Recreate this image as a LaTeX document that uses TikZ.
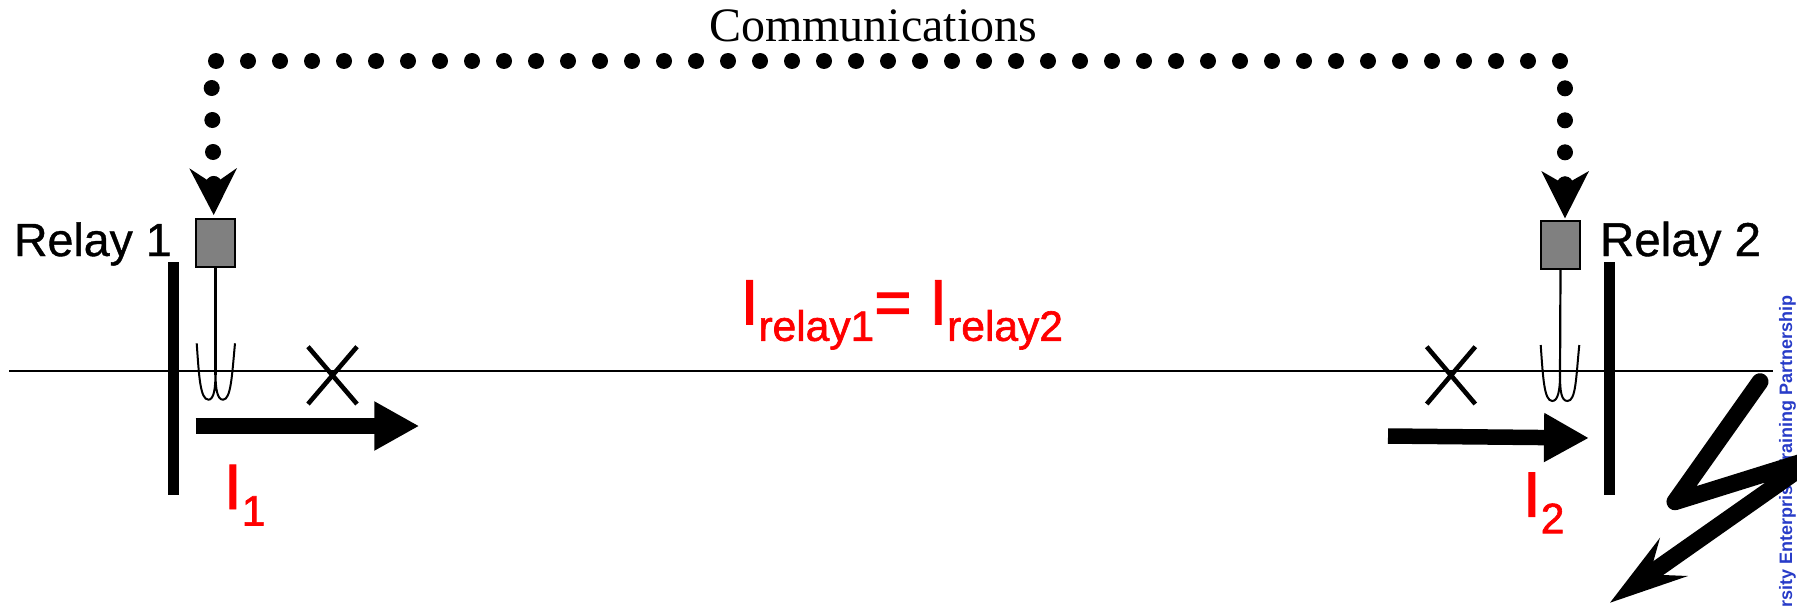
\documentclass[tikz,border=0pt]{standalone}
\usepackage{fontspec}
\setmainfont{Liberation Serif}
\setsansfont{Liberation Sans}
\newfontfamily\redfont[FakeBold=1.5]{Liberation Sans}
\newfontfamily\relayfont[FakeBold=0.8]{Liberation Sans}
\usetikzlibrary{arrows.meta}
\definecolor{markblue}{RGB}{40,60,200}
\tikzset{
  relaybox/.style={draw=black,line width=2.4pt,fill=black!50,inner sep=0pt,outer sep=0pt,minimum width=38.6pt,minimum height=47.6pt},
  linewire/.style={draw=black,line width=2.4pt},
  busbar/.style={draw=black,line width=11pt},
  stemline/.style={draw=black,line width=2.2pt},
  ctcoil/.style={draw=black,line width=2pt},
  crossline/.style={draw=black,line width=4.6pt},
  dotline/.style={draw=black,line width=16pt,line cap=round,dash pattern=on 0.01pt off 31.99pt},
  dotend/.style={fill=black},
  current/.style={draw=black,line width=15.5pt,-{Triangle[length=45pt,width=46pt]}},
  bolt/.style={draw=black,line width=17pt,line cap=round,line join=round},
  relaylabel/.style={font=\relayfont\fontsize{47.5}{47.5}\selectfont,anchor=base west,inner sep=0pt,outer sep=0pt},
  redlabel/.style={font=\redfont\fontsize{64}{64}\selectfont,text=red,anchor=base west,inner sep=0pt,outer sep=0pt},
}
\newcommand{\subtxt}[1]{\raisebox{-16.5pt}{\fontsize{42.5}{42.5}\selectfont #1}}
\begin{document}
\begin{tikzpicture}[x=1pt,y=-1pt]
\useasboundingbox (0,0) rectangle (1797,606);
\clip (0,0) rectangle (1797,606);
\fill[white] (0,0) rectangle (1797,606);
% watermark
\node[font=\sffamily\bfseries\fontsize{18}{18}\selectfont,text=markblue,rotate=90,anchor=base east,inner sep=0pt] (mark) at (1792,295) {rsity Enterprise Training Partnership};
% coordinates
\coordinate (lineL) at (9,370.7);
\coordinate (lineR) at (1773,370.7);
\coordinate (bar1t) at (173.5,262);
\coordinate (bar1b) at (173.5,495);
\coordinate (bar2t) at (1609.5,262);
\coordinate (bar2b) at (1609.5,495);
\coordinate (c1) at (216,61);
\coordinate (c2) at (1560.8,61);
\coordinate (v1) at (211.7,88);
\coordinate (v2) at (1565,88.3);
\coordinate (d1) at (213.7,184.2);
\coordinate (d2) at (1565,184.6);
\coordinate (stem1) at (215.5,375);
\coordinate (stem2) at (1560,377);
\coordinate (i1a) at (195.7,426);
\coordinate (i1b) at (419.3,426);
\coordinate (i2a) at (1388,436);
\coordinate (i2b) at (1589,438);
% main line and busbars
\draw[linewire] (lineL) -- (lineR);
\draw[busbar] (bar1t) -- (bar1b);
\draw[busbar] (bar2t) -- (bar2b);
% relay boxes
\node[relaybox] (relay1) at (215.5,243) {};
\node[relaybox] (relay2) at (1560.5,245) {};
\draw[stemline] (relay1.south) -- (stem1);
\draw[stemline] (relay2.south) -- (stem2);
% CT coils
\draw[ctcoil] (196.7,343.3) .. controls (199,375) and (200,399.7) .. (208.5,399.7)
  .. controls (214,399.7) and (215.3,388) .. (stem1)
  .. controls (215.7,388) and (217,399.7) .. (223,399.7)
  .. controls (231,399.7) and (232,375) .. (235,343.3);
\draw[ctcoil] (1540.7,345) .. controls (1543,377) and (1544,401) .. (1552.3,401)
  .. controls (1558,401) and (1559.8,390) .. (stem2)
  .. controls (1560.2,390) and (1561,401) .. (1567.5,401)
  .. controls (1576,401) and (1576,377) .. (1579.3,345);
% crosses
\draw[crossline] (308,346.7) -- (357,404) (357,346.7) -- (308,404);
\draw[crossline] (1426.7,346.7) -- (1475.3,404) (1475.3,346.7) -- (1426.7,404);
% current arrows
\draw[current] (i1a) -- (i1b);
\draw[current] (i2a) -- (i2b);
% communication dotted path
\draw[dotline] (c1) -- (c2);
\draw[dotline] (v1) -- (d1);
\draw[dotline] (v2) -- (d2);
\fill[dotend] (213.7,215) -- (189.3,168.3) -- (d1) -- (237,168) -- cycle;
\fill[dotend] (d1) circle (8);
\fill[dotend] (1565,218.3) -- (1541.3,171) -- (d2) -- (1589,171) -- cycle;
\fill[dotend] (d2) circle (8);
% fault bolt
\draw[bolt] (1760,381.7) -- (1675,501.7) -- (1815,458) -- (1658,568.3);
\fill (1610,602.7) -- (1660,537.7) -- (1653.3,561.7) -- (1663.3,575) -- (1688,576) -- cycle;
% texts
\node[font=\rmfamily\fontsize{48}{48}\selectfont,anchor=base west,inner sep=0pt] (comm) at (709,41) {Communications};
\node[relaylabel,font=\relayfont\fontsize{46.5}{46.5}\selectfont] (r1txt) at (14,256) {Relay 1};
\node[relaylabel] (r2txt) at (1600,256) {Relay 2};
\node[redlabel] (i1txt) at (224,509) {I\subtxt{1}};
\node[redlabel] (i2txt) at (1523,516.7) {I\subtxt{2}};
\node[redlabel] (irel) at (740.7,324.3) {I\subtxt{relay1}= I\subtxt{relay2}};
\end{tikzpicture}
\end{document}
